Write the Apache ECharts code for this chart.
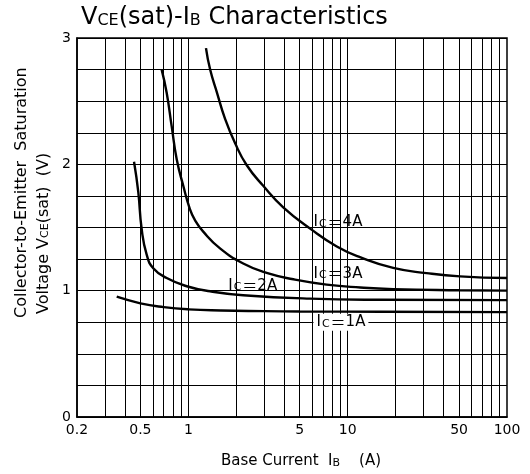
<!DOCTYPE html>
<html>
<head>
<meta charset="utf-8">
<script src="https://cdn.jsdelivr.net/npm/echarts@6/dist/echarts.min.js"></script>
<style>
html, body { margin: 0; padding: 0; background: #fff; }
#chart { width: 530px; height: 474px; }
</style>
</head>
<body>
<div id="chart"></div>
<script>
// VCE(sat) vs IB, one curve per collector current, [IB (A), VCE(sat) (V)]
var ic1A = [[0.355, 0.952], [0.5, 0.9], [0.7, 0.87], [1.0, 0.852], [1.6, 0.843], [3, 0.838], [5, 0.835], [16, 0.833], [100, 0.83]];
var ic2A = [[0.456, 2.02], [0.485, 1.78], [0.509, 1.49], [0.548, 1.283], [0.602, 1.178], [0.731, 1.10], [0.977, 1.035], [1.37, 0.995], [2.21, 0.964], [5.8, 0.937], [16, 0.928], [100, 0.925]];
var ic3A = [[0.68, 2.75], [0.731, 2.566], [0.786, 2.30], [0.845, 2.04], [0.929, 1.83], [1.02, 1.65], [1.10, 1.558], [1.24, 1.467], [1.58, 1.335], [2.21, 1.215], [3.1, 1.14], [4.56, 1.09], [7.38, 1.048], [12, 1.025], [19.3, 1.012], [50, 1.003], [100, 1.0]];
var ic4A = [[1.29, 2.92], [1.37, 2.75], [1.51, 2.57], [1.70, 2.36], [1.96, 2.17], [2.32, 1.995], [2.95, 1.83], [3.94, 1.66], [5.9, 1.485], [8.54, 1.35], [11.95, 1.265], [19.3, 1.18], [31.3, 1.139], [50.7, 1.113], [100, 1.10]];

// log grid lines and labelled ticks on the IB axis
var gridIB = [0.3, 0.4, 0.5, 0.6, 0.7, 0.8, 0.9, 1, 2, 3, 4, 5, 6, 7, 8, 9, 10, 20, 30, 40, 50, 60, 70, 80, 90];
var tickIB = [0.2, 0.5, 1, 5, 10, 50, 100];

var font = 'DejaVu Sans';
var chart = echarts.init(document.getElementById('chart'));

// curve name tags, placed at data coordinates
var tags = [
	{ name: '4A', coord: [6.1, 1.54] },
	{ name: '3A', coord: [6.1, 1.135] },
	{ name: '2A', coord: [1.78, 1.04] },
	{ name: '1A', coord: [6.1, 0.75], box: true }
];

function curve(data) {
	return {
		type: 'line',
		data: data,
		smooth: 0.5,
		symbol: 'none',
		lineStyle: { color: '#000', width: 2.4 },
		z: 5
	};
}

var tagPoints = tags.map(function (t) {
	return {
		coord: t.coord,
		label: {
			show: true,
			position: 'right',
			distance: 0,
			formatter: '{a|I}{c|C}{e|＝}{a|' + t.name + '}',
			backgroundColor: t.box ? '#fff' : 'transparent',
			padding: t.box ? [1, 3] : 0,
			rich: {
				a: { fontFamily: font, fontSize: 15, color: '#000' },
				c: { fontFamily: font, fontSize: 11, color: '#000', padding: [3, 1, 0, 1] },
				e: { fontFamily: 'Noto Sans CJK JP', fontSize: 15, color: '#000' }
			}
		}
	};
});
// IB tick labels under the bottom edge
var tickPoints = tickIB.map(function (v) {
	return {
		coord: [v, 0],
		label: {
			show: true,
			position: 'bottom',
			distance: 6,
			formatter: String(v),
			fontFamily: font,
			fontSize: 14,
			color: '#000'
		}
	};
});

var series = [curve(ic1A), curve(ic2A), curve(ic3A), curve(ic4A)];
series.push({
	type: 'line',
	data: [],
	silent: true,
	markLine: {
		silent: true,
		symbol: 'none',
		animation: false,
		lineStyle: { color: '#000', width: 1, type: 'solid' },
		label: { show: false },
		emphasis: { disabled: true },
		data: gridIB.map(function (v) { return { xAxis: v }; })
	},
	markPoint: {
		symbol: 'circle',
		symbolSize: 0,
		animation: false,
		silent: true,
		data: tagPoints.concat(tickPoints)
	}
});

var option = {
	animation: false,
	backgroundColor: '#fff',
	title: {
		text: 'V{s|CE}(sat)-I{s|B} Characteristics',
		left: 76,
		top: 1,
		textStyle: {
			fontFamily: font,
			fontSize: 24,
			fontWeight: 'normal',
			color: '#000',
			rich: { s: { fontFamily: font, fontSize: 16, color: '#000', padding: [5, 0, 0, 0] } }
		}
	},
	grid: {
		left: 77, right: 23, top: 38, bottom: 54,
		show: true, borderColor: '#000', borderWidth: 1.5
	},
	xAxis: {
		type: 'log',
		logBase: 10,
		min: 0.2,
		max: 100,
		axisLine: { lineStyle: { color: '#000', width: 1.5 } },
		axisTick: { show: false },
		axisLabel: { show: false },
		splitLine: { show: false },
		name: 'Base Current  I{s|B}    (A)',
		nameLocation: 'middle',
		nameGap: 37,
		nameTextStyle: {
			fontFamily: font,
			fontSize: 15,
			color: '#000',
			padding: [0, 0, 0, 18],
			rich: { s: { fontFamily: font, fontSize: 11, color: '#000', padding: [3, 0, 0, 0] } }
		}
	},
	yAxis: {
		type: 'value',
		min: 0,
		max: 3,
		interval: 1,
		axisLine: { lineStyle: { color: '#000', width: 1.5 } },
		axisTick: { show: false },
		axisLabel: { color: '#000', fontFamily: font, fontSize: 14, margin: 6 },
		splitLine: { lineStyle: { color: '#000', width: 1 } },
		minorTick: { show: false, splitNumber: 4 },
		minorSplitLine: { show: true, lineStyle: { color: '#000', width: 1 } }
	},
	graphic: [
		{
			type: 'text',
			x: 22, y: 318,
			rotation: Math.PI / 2,
			style: {
				text: 'Collector-to-Emitter  Saturation',
				fontFamily: font, fontSize: 16,
				fill: '#000',
				textAlign: 'left', textVerticalAlign: 'middle'
			}
		},
		{
			type: 'text',
			x: 44, y: 314,
			rotation: Math.PI / 2,
			style: {
				text: 'Voltage V{s|CE}(sat)  (V)',
				fontFamily: font, fontSize: 16,
				fill: '#000',
				textAlign: 'left', textVerticalAlign: 'middle',
				rich: { s: { fontFamily: font, fontSize: 11, fill: '#000', padding: [3, 0, 0, 0] } }
			}
		}
	],
	series: series
};

chart.setOption(option);
</script>
</body>
</html>
